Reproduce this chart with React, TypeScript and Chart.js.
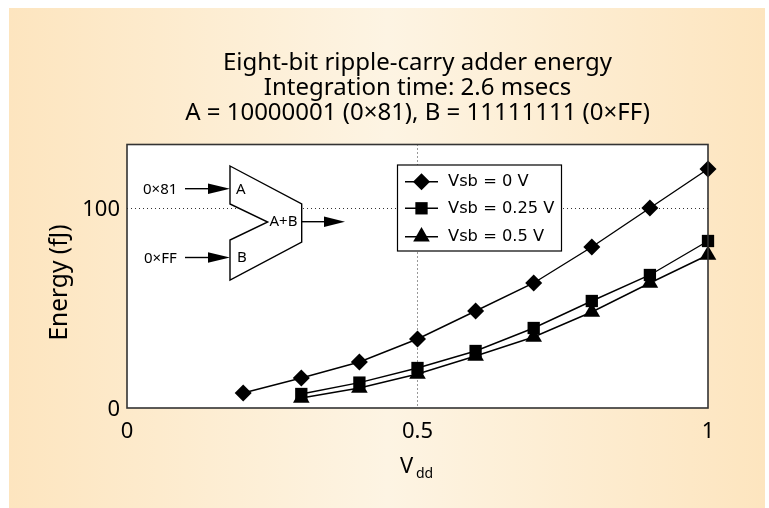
import React, { useEffect, useRef } from "react";
import { Chart, registerables } from "chart.js";
import { drawPoint } from "chart.js/helpers";

Chart.register(...registerables);

const vddAll = [0.2, 0.3, 0.4, 0.5, 0.6, 0.7, 0.8, 0.9, 1.0];
const vddFrom03 = [0.3, 0.4, 0.5, 0.6, 0.7, 0.8, 0.9, 1.0];
const vsb0 = [7.5, 15, 23, 34.5, 48.5, 62.5, 80.5, 100, 119.5];
const vsb025 = [7, 12.7, 20, 28.5, 40, 53.5, 66.5, 83.5];
const vsb05 = [5, 10, 17, 26, 35.5, 48, 62.5, 76.5];
const seriesLabels = ["Vsb = 0 V", "Vsb = 0.25 V", "Vsb = 0.5 V"];
const xTickValues = [0, 0.5, 1];
const yTickValues = [0, 100];
const titleLines = [
  "Eight-bit ripple-carry adder energy",
  "Integration time: 2.6 msecs",
  "A = 10000001 (0\u00d781), B = 11111111 (0\u00d7FF)",
];

const INK = "#000000";
const SANS = "'DejaVu Sans'";
const NOTO = "'Noto Sans'";

const pts = (xs: number[], ys: number[]) => xs.map((x, i) => ({ x, y: ys[i] }));

const arrow = (ctx: CanvasRenderingContext2D, x0: number, x1: number, headStart: number, y: number) => {
  ctx.beginPath();
  ctx.moveTo(x0, y);
  ctx.lineTo(headStart, y);
  ctx.stroke();
  ctx.beginPath();
  ctx.moveTo(headStart, y - 5.3);
  ctx.lineTo(x1, y);
  ctx.lineTo(headStart, y + 5.3);
  ctx.closePath();
  ctx.fill();
};

const underlay = {
  id: "underlay",
  beforeDraw(chart: any) {
    const { ctx, chartArea: a } = chart;
    ctx.save();
    ctx.fillStyle = "#ffffff";
    ctx.fillRect(a.left, a.top, a.right - a.left, a.bottom - a.top);
    ctx.restore();
  },
};

const overlay = {
  id: "overlay",
  afterDraw(chart: any) {
    const { ctx, chartArea: a } = chart;
    ctx.save();
    // plot frame
    ctx.strokeStyle = "#333333";
    ctx.lineWidth = 1.6;
    ctx.strokeRect(a.left, a.top, a.right - a.left, a.bottom - a.top);

    // y-axis title
    ctx.save();
    ctx.translate(67, 282.5);
    ctx.rotate(-Math.PI / 2);
    ctx.fillStyle = INK;
    ctx.textAlign = "center";
    ctx.textBaseline = "alphabetic";
    ctx.font = `24.5px ${NOTO}`;
    ctx.fillText("Energy (fJ)", 0, 0);
    ctx.restore();

    // x-axis title with subscript
    ctx.fillStyle = INK;
    ctx.textBaseline = "alphabetic";
    ctx.textAlign = "left";
    ctx.font = `22px ${NOTO}`;
    ctx.fillText("V", 400, 473);
    ctx.font = `14px ${NOTO}`;
    ctx.fillText("dd", 416, 478);

    // legend
    ctx.fillStyle = "#ffffff";
    ctx.fillRect(397.5, 165, 164, 86);
    ctx.strokeStyle = "#000000";
    ctx.lineWidth = 1.2;
    ctx.strokeRect(397.5, 165, 164, 86);
    const rows = [181.7, 208.3, 236.7];
    const styles = ["rectRot", "rect", "triangle"];
    const radii = [8.5, 8.7, 9.6];
    rows.forEach((y, i) => {
      ctx.strokeStyle = INK;
      ctx.lineWidth = 1.4;
      ctx.beginPath();
      ctx.moveTo(405, y);
      ctx.lineTo(438, y);
      ctx.stroke();
      ctx.fillStyle = INK;
      drawPoint(ctx, { pointStyle: styles[i], radius: radii[i], rotation: 0, borderWidth: 0 }, 421.5, y);
      ctx.font = `16.3px ${SANS}`;
      ctx.textAlign = "left";
      ctx.textBaseline = "middle";
      ctx.fillText(chart.data.datasets[i].label, 448, y + 0.5);
    });

    // adder schematic
    ctx.strokeStyle = INK;
    ctx.lineWidth = 1.4;
    ctx.beginPath();
    ctx.moveTo(230, 166);
    ctx.lineTo(301.7, 204);
    ctx.lineTo(301.7, 242);
    ctx.lineTo(230, 280);
    ctx.lineTo(230, 240);
    ctx.lineTo(267.7, 222);
    ctx.lineTo(230, 204);
    ctx.closePath();
    ctx.fillStyle = "#ffffff";
    ctx.fill();
    ctx.stroke();
    ctx.fillStyle = INK;
    arrow(ctx, 185, 230, 208, 188.7);
    arrow(ctx, 185, 230, 208, 257.5);
    arrow(ctx, 302, 345, 324, 221.7);
    ctx.font = `15px ${NOTO}`;
    ctx.textBaseline = "middle";
    ctx.textAlign = "left";
    ctx.fillText("0\u00d781", 143, 190);
    ctx.fillText("0\u00d7FF", 144, 258.5);
    ctx.fillText("A", 236, 190);
    ctx.fillText("B", 237, 258);
    ctx.fillText("A+B", 269.5, 222);
    ctx.restore();
  },
};

export default function App() {
  const ref = useRef<HTMLCanvasElement>(null);
  useEffect(() => {
    const chart = new Chart(ref.current as HTMLCanvasElement, {
      type: "line",
      data: {
        datasets: [
          { label: seriesLabels[0], data: pts(vddAll, vsb0), pointStyle: "rectRot", pointRadius: 8.5 },
          { label: seriesLabels[1], data: pts(vddFrom03, vsb025), pointStyle: "rect", pointRadius: 8.7 },
          { label: seriesLabels[2], data: pts(vddFrom03, vsb05), pointStyle: "triangle", pointRadius: 9.6 },
        ].map((d) => ({
          ...d,
          borderColor: INK,
          backgroundColor: INK,
          borderWidth: 1.4,
          pointBorderWidth: 0,
          pointBackgroundColor: INK,
          tension: 0,
          clip: false as any,
        })),
      },
      plugins: [underlay, overlay],
      options: {
        responsive: false,
        animation: false,
        layout: { padding: { left: 46, right: 61, top: 0, bottom: 0 } },
        plugins: {
          legend: { display: false },
          tooltip: { enabled: false },
          title: {
            display: true,
            fullSize: false,
            text: titleLines,
            color: INK,
            font: { family: NOTO, size: 24, weight: "normal", lineHeight: 25 / 24 },
            padding: { top: 51, bottom: 18.5 },
          },
        },
        scales: {
          x: {
            type: "linear",
            min: 0,
            max: 1,
            afterBuildTicks: (s: any) => {
              s.ticks = xTickValues.map((value) => ({ value }));
            },
            afterFit: (s: any) => {
              s.height = 100;
            },
            ticks: {
              color: INK,
              font: { family: NOTO, size: 22 },
              padding: 11,
              maxRotation: 0,
              callback: (v: any) => String(v),
            },
            border: { display: false, dash: [1, 3] },
            grid: {
              drawTicks: false,
              color: "#333333",
              lineWidth: (c: any) => (c.tick && c.tick.value === 0.5 ? 1 : 0),
              tickLength: 0,
            },
          },
          y: {
            type: "linear",
            min: 0,
            max: 131.75,
            afterBuildTicks: (s: any) => {
              s.ticks = yTickValues.map((value) => ({ value }));
            },
            afterFit: (s: any) => {
              s.width = 81;
            },
            ticks: {
              color: INK,
              font: { family: NOTO, size: 22 },
              padding: 7,
              labelOffset: 2,
              callback: (v: any) => String(v),
            },
            title: { display: false },
            border: { display: false, dash: [1, 3] },
            grid: {
              drawTicks: false,
              color: "#333333",
              lineWidth: (c: any) => (c.tick && c.tick.value === 100 ? 1 : 0),
              tickLength: 0,
            },
          },
        },
      } as any,
    });
    return () => chart.destroy();
  }, []);
  return (
    <div style={{ position: "absolute", left: 0, top: 0, width: 769, height: 508, background: "#ffffff" }}>
      <div
        style={{
          position: "absolute",
          left: 9,
          top: 8,
          width: 756,
          height: 500,
          background: "linear-gradient(to right, #fde5bf 0%, #fdf4e3 50%, #fde5bf 100%)",
        }}
      />
      <canvas ref={ref} width={769} height={508} style={{ position: "absolute", left: 0, top: 0, display: "block" }} />
    </div>
  );
}
